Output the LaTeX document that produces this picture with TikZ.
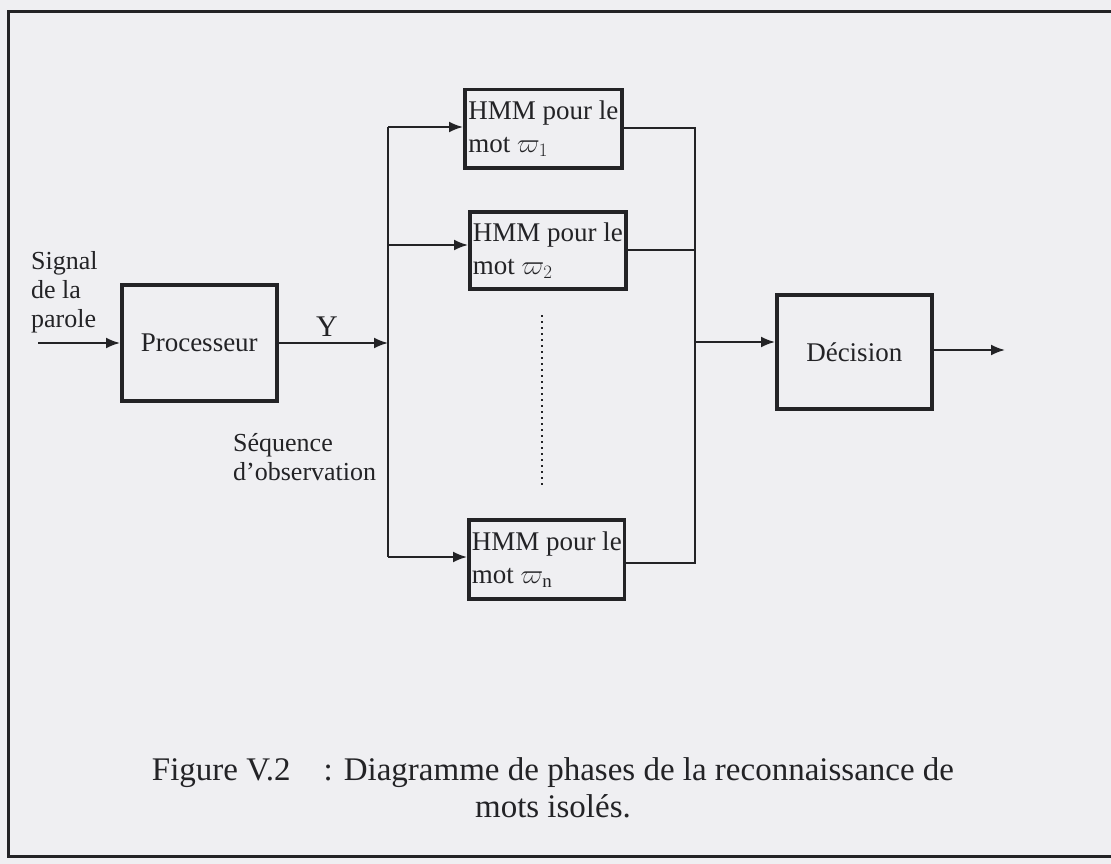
\RequirePackage{fix-cm}
\documentclass[tikz,border=0pt]{standalone}
\usepackage{fontspec}
\setmainfont{Liberation Serif}
\usetikzlibrary{arrows.meta}
\definecolor{paper}{RGB}{239,239,242}
\definecolor{ink}{RGB}{35,35,38}
\newcommand\fsz[2]{\fontsize{#1}{#2}\selectfont}
\begin{document}
\begin{tikzpicture}[x=1pt,y=-1pt,
  box/.style={draw=ink, line width=3.5pt, anchor=north west, inner sep=3pt, text=ink},
  conn/.style={draw=ink, line width=2pt},
  arr/.style={conn, -{Latex[length=14pt,width=11pt]}},
  lbl/.style={text=ink, inner sep=0pt, align=left},
  frame/.style={draw=ink, line width=3pt},
  ]
\fill[paper] (0,0) rectangle (1111,864);
\useasboundingbox (0,0) rectangle (1111,864);
\draw[frame] (1111,12) -- (8,12) -- (8,856) -- (1111,856);

% boxes
\node[box, minimum width=155pt, minimum height=116pt, font=\fsz{27}{30}] (proc) at (120,283) {Processeur};
\node[box, minimum width=157pt, minimum height=78pt, align=left, font=\fsz{27}{33}] (hmm1) at (463,88) {HMM pour le\\mot $\varpi_{1}$};
\node[box, minimum width=156pt, minimum height=77pt, align=left, font=\fsz{27}{33}] (hmm2) at (468,210) {HMM pour le\\mot $\varpi_{2}$};
\node[box, minimum width=155pt, minimum height=79pt, align=left, font=\fsz{27}{33}] (hmmn) at (467,518) {HMM pour le\\mot $\varpi_{\mathrm{n}}$};
\node[box, minimum width=155pt, minimum height=114pt, font=\fsz{27}{30}] (dec) at (775,293) {Décision};

% labels
\node[lbl, anchor=north west, font=\fsz{26}{29}] (sig) at (31,251) {Signal\\de la\\parole};
\node[lbl, font=\fsz{30}{32}] (y) at (327,327) {Y};
\node[lbl, anchor=north west, font=\fsz{26}{29}] (seq) at (233,433) {Séquence\\d’observation};
\node[lbl, align=center, anchor=north, font=\fsz{33}{37}] (cap) at (553,757) {Figure V.2\hspace*{1em}: Diagramme de phases de la reconnaissance de\\mots isolés.};

% coordinates
\coordinate (sin) at (38,343);
\coordinate (bt) at (388,127);
\coordinate (bm) at (388,343);
\coordinate (b2) at (388,245);
\coordinate (bb) at (388,557);
\coordinate (rt) at (695,128);
\coordinate (r2) at (695,250);
\coordinate (rm) at (695,342);
\coordinate (rb) at (695,563);
\coordinate (out) at (1005,350);

% connectors
\draw[arr] (sin) -- (sin -| proc.west);
\draw[arr] (bm -| proc.east) -- (bm);
\draw[conn] (bt) -- (bb);
\draw[arr] (bt) -- (bt -| hmm1.west);
\draw[arr] (b2) -- (b2 -| hmm2.west);
\draw[arr] (bb) -- (bb -| hmmn.west);
\draw[conn] (rt -| hmm1.east) -- (rt) -- (rb) -- (rb -| hmmn.east);
\draw[conn] (r2 -| hmm2.east) -- (r2);
\draw[arr] (rm) -- (rm -| dec.west);
\draw[arr] (out -| dec.east) -- (out);

% dotted ellipsis between HMM boxes
\draw[ink, line width=2pt, dash pattern=on 2pt off 4pt] (542,315) -- (542,486);
\end{tikzpicture}
\end{document}
